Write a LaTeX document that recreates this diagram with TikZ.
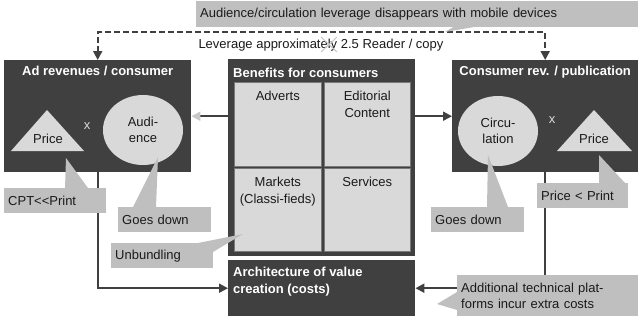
\documentclass[tikz,border=0pt]{standalone}
\usepackage{fontspec}
\setmainfont{Liberation Sans}
\usetikzlibrary{arrows.meta,positioning,shapes.geometric}
\definecolor{boxdark}{RGB}{64,64,64}
\definecolor{shapegrey}{RGB}{217,217,217}
\definecolor{notegrey}{RGB}{191,191,191}
\definecolor{tipgrey}{RGB}{200,200,200}
\definecolor{inkdark}{RGB}{26,26,26}
\newcommand{\bodyfont}{\fontsize{13}{16.5}\selectfont}
\newcommand{\notebox}[5]{
  \node[note,#3] (#1) at #2 {#4};
  \fill[notegrey] #5 -- cycle;
}
\tikzset{
  darkbox/.style={fill=boxdark,anchor=north west,inner sep=0pt},
  boxtitle/.style={text=white,font=\bodyfont\bfseries,inner sep=0pt},
  panel/.style={fill=shapegrey,draw=boxdark!70,line width=0.6pt,anchor=north west,inner sep=0pt},
  celltext/.style={text=inkdark,font=\bodyfont,align=center,inner sep=0pt},
  bubble/.style={ellipse,fill=shapegrey,minimum width=80,minimum height=70,inner sep=0pt,
    text=inkdark,font=\bodyfont,align=center},
  timesmark/.style={text=shapegrey,font=\bodyfont,inner sep=0pt},
  note/.style={fill=notegrey,anchor=north west,inner xsep=4pt,inner ysep=0pt,minimum height=25,
    align=left,text=inkdark,font=\bodyfont},
  link/.style={draw=boxdark,line width=2pt},
}

\begin{document}
\begin{tikzpicture}[x=1pt,y=-1pt,>={Triangle[length=9pt,width=9pt]}]
  \useasboundingbox (0,0) rectangle (640,319);

  \node[darkbox,minimum width=187,minimum height=112] (adrev) at (4,60) {};
  \node[darkbox,minimum width=187,minimum height=197] (benefits) at (228,59) {};
  \node[darkbox,minimum width=187,minimum height=56] (arch) at (228,260) {};
  \node[darkbox,minimum width=186,minimum height=112] (consrev) at (452,60) {};

  \node[boxtitle,below=6pt of adrev.north] (adrevtitle) {Ad revenues / consumer};
  \node[boxtitle,below=6pt of consrev.north] (consrevtitle) {Consumer rev. / publication};
  \node[boxtitle,anchor=west] (benefitstitle) at (233,73) {Benefits for consumers};
  \node[boxtitle,anchor=north west,align=left] (archtitle) at (233,267) {Architecture of value\\creation (costs)};

  \node[panel,minimum width=87,minimum height=84] (adverts) at (234,82) {};
  \node[panel,minimum width=86,minimum height=84] (editorial) at (324,82) {};
  \node[panel,minimum width=87,minimum height=83] (markets) at (234,168) {};
  \node[panel,minimum width=86,minimum height=83] (services) at (324,168) {};
  \node[celltext,below=9pt of adverts.north] (advertstext) {Adverts};
  \node[celltext,below=9pt of editorial.north] (editorialtext) {Editorial\\Content};
  \node[celltext,below=9pt of markets.north] (marketstext) {Markets\\(Classi-fieds)};
  \node[celltext,below=9pt of services.north] (servicestext) {Services};

  \fill[shapegrey] (11,151) -- (47,110) -- (84,151) -- cycle;
  \node[celltext] (adprice) at (48,139) {Price};
  \node[timesmark] (adtimes) at (87,126) {x};
  \node[bubble] (audience) at (143,130) {Audi-\\ence};

  \node[bubble] (circulation) at (498,131) {Circu-\\lation};
  \node[timesmark] (pubtimes) at (552,120) {x};
  \fill[shapegrey] (557,151) -- (594,110) -- (632,151) -- cycle;
  \node[celltext] (pubprice) at (594,139) {Price};

  \node[celltext] (leverage) at (321,45) {Leverage approximately 2.5 Reader / copy};
  \draw[tipgrey,line width=1pt] (321,37) -- (337,52) (321,52) -- (337,37);

  \draw[link,dash pattern=on 6pt off 3pt,<->] (adrev.north) -- ++(0,-28) -| (consrev.north);
  \draw[link,-{Triangle[length=9pt,width=9pt,color=tipgrey]}] (benefits.west |- adrev.east) -- (adrev.east);
  \draw[link,->] (benefits.east |- consrev.west) -- (consrev.west);
  \draw[link,->] (adrev.south) |- (arch.west);
  \draw[link] (consrev.south) -- ++(0,103);

  \notebox{topnote}{(196,1)}{text width=434pt,minimum height=26}{Audience/circulation leverage disappears with mobile devices}{(455,26) -- (445,32) -- (480,26)}
  \notebox{cpt}{(4,188)}{text width=94pt}{CPT<{}<Print}{(65,188) -- (66,158) -- (88,188)}
  \notebox{goesleft}{(118,207)}{text width=85pt}{Goes down}{(133,207) -- (158,157) -- (156,207)}
  \notebox{unbundling}{(111,243)}{text width=94pt}{Unbundling}{(198,243) -- (243,234) -- (213,252)}
  \notebox{goesright}{(431,207)}{text width=85pt}{Goes down}{(487,207) -- (488,155) -- (508,207)}
  \notebox{printprice}{(537,183)}{text width=83pt}{Price < Print}{(599,183) -- (599,155) -- (625,183)}
  \notebox{extracost}{(457,275)}{text width=173pt,minimum height=41}{Additional technical plat-\\forms incur extra costs}{(457,292) -- (437,304) -- (457,310)}

  \draw[link,->] (extracost.west |- arch.east) -- (arch.east);
\end{tikzpicture}
\end{document}
